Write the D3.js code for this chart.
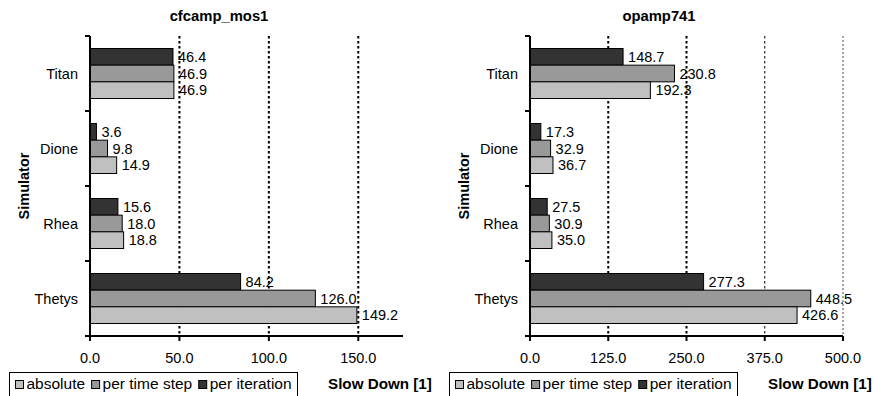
<!DOCTYPE html>
<html>
<head>
<meta charset="utf-8">
<script src="https://cdn.jsdelivr.net/npm/d3@7"></script>
<style>
  body { margin: 0; background: #fff; }
  svg { display: block; font-family: "Liberation Sans", Arial, sans-serif; }
  text { fill: #000; }
</style>
</head>
<body>
<svg id="chart" width="874" height="396"></svg>
<script>
// Simulators, top to bottom
const simulators = ["Titan", "Dione", "Rhea", "Thetys"];
// Series, drawn top to bottom inside each simulator group
const seriesNames = ["per iteration", "per time step", "absolute"];
const seriesColors = ["#333333", "#999999", "#c0c0c0"];
const legendOrder = ["absolute", "per time step", "per iteration"];

// cfcamp_mos1 slow-down values
const cfcampPerIteration = [46.4, 3.6, 15.6, 84.2];
const cfcampPerTimeStep  = [46.9, 9.8, 18.0, 126.0];
const cfcampAbsolute     = [46.9, 14.9, 18.8, 149.2];
const cfcampTicks = [0, 50, 100, 150];

// opamp741 slow-down values
const opampPerIteration = [148.7, 17.3, 27.5, 277.3];
const opampPerTimeStep  = [230.8, 32.9, 30.9, 448.5];
const opampAbsolute     = [192.3, 36.7, 35.0, 426.6];
const opampTicks = [0, 125, 250, 375, 500];

const panels = [
  { title: "cfcamp_mos1", series: [cfcampPerIteration, cfcampPerTimeStep, cfcampAbsolute],
    domain: [0, 175], ticks: cfcampTicks,
    gridStyles: [
      { w: 2, dash: "2.5,2.5", c: "#000" },
      { w: 2, dash: "2.5,2.5", c: "#000" },
      { w: 2, dash: "2.5,2.5", c: "#000" } ] },
  { title: "opamp741", series: [opampPerIteration, opampPerTimeStep, opampAbsolute],
    domain: [0, 500], ticks: opampTicks,
    gridStyles: [
      { w: 2, dash: "2.5,2.5", c: "#000" },
      { w: 2, dash: "2.5,2.5", c: "#000" },
      { w: 1, dash: "2.5,2.5", c: "#000" },
      { w: 1.5, dash: "2,2", c: "#888" } ] }
];

const svg = d3.select("#chart");
const FS = "14.5px";
const plotTop = 36, plotBottom = 336;
const fmt = d3.format(".1f");

panels.forEach((p, pi) => {
  const ox = pi * 440;
  const g = svg.append("g").attr("transform", `translate(${ox},0)`);
  const left = 90, right = 403;

  const x = d3.scaleLinear().domain(p.domain).range([left, right]);
  const y = d3.scaleBand().domain(simulators).range([plotTop, plotBottom])
    .paddingInner(1 / 3).paddingOuter(1 / 6);
  const ySub = d3.scaleBand().domain(seriesNames).range([0, y.bandwidth()]);

  // title
  g.append("text").attr("x", 219).attr("y", 21).attr("text-anchor", "middle")
    .style("font-size", "14.8px").style("font-weight", "bold").text(p.title);

  // dotted vertical grid lines
  p.ticks.filter(t => t > 0).forEach((t, i) => {
    const s = p.gridStyles[i];
    g.append("line").attr("x1", x(t)).attr("x2", x(t))
      .attr("y1", plotTop).attr("y2", plotBottom)
      .attr("stroke", s.c).attr("stroke-width", s.w).attr("stroke-dasharray", s.dash);
  });

  // bars
  seriesNames.forEach((name, si) => {
    const vals = p.series[si];
    g.selectAll(null).data(simulators).enter().append("rect")
      .attr("x", x(0))
      .attr("y", d => y(d) + ySub(name))
      .attr("width", (d, i) => x(vals[i]) - x(0))
      .attr("height", ySub.bandwidth())
      .attr("fill", seriesColors[si])
      .attr("stroke", "#000").attr("stroke-width", 1);
  });

  // value labels
  seriesNames.forEach((name, si) => {
    const vals = p.series[si];
    g.selectAll(null).data(simulators).enter().append("text")
      .attr("x", (d, i) => x(vals[i]) + 5)
      .attr("y", d => y(d) + ySub(name) + ySub.bandwidth() / 2)
      .attr("dy", "0.36em")
      .style("font-size", FS)
      .text((d, i) => fmt(vals[i]));
  });

  // y axis with ticks on category boundaries
  g.append("line").attr("x1", left).attr("x2", left).attr("y1", plotTop).attr("y2", plotBottom + 1)
    .attr("stroke", "#000").attr("stroke-width", 2);
  const boundaries = simulators.map((s, i) => plotTop + i * y.step());
  boundaries.push(plotBottom);
  boundaries.forEach(b => {
    g.append("line").attr("x1", left - 5).attr("x2", left).attr("y1", b).attr("y2", b)
      .attr("stroke", "#000").attr("stroke-width", 2);
  });
  g.selectAll(null).data(simulators).enter().append("text")
    .attr("x", left - 12).attr("y", d => y(d) + y.bandwidth() / 2)
    .attr("dy", "0.36em").attr("text-anchor", "end")
    .style("font-size", FS).text(d => d);

  // x axis
  g.append("line").attr("x1", left - 3).attr("x2", right).attr("y1", plotBottom).attr("y2", plotBottom)
    .attr("stroke", "#000").attr("stroke-width", 2);
  p.ticks.forEach(t => {
    g.append("line").attr("x1", x(t)).attr("x2", x(t)).attr("y1", plotBottom).attr("y2", plotBottom + 5)
      .attr("stroke", "#000").attr("stroke-width", 2);
    g.append("text").attr("x", x(t)).attr("y", 363).attr("text-anchor", "middle")
      .style("font-size", FS).text(fmt(t));
  });

  // axis titles
  g.append("text").attr("transform", "translate(29,186) rotate(-90)")
    .attr("text-anchor", "middle").style("font-size", FS).style("font-weight", "bold")
    .text("Simulator");
  g.append("text").attr("x", 328).attr("y", 389)
    .style("font-size", "15.2px").style("font-weight", "bold").text("Slow Down [1]");

  // legend
  const lg = g.append("g");
  lg.append("rect").attr("x", 9.5).attr("y", 372.5).attr("width", 288).attr("height", 30)
    .attr("fill", "#fff").attr("stroke", "#000").attr("stroke-width", 1);
  let cx = 15;
  legendOrder.forEach(name => {
    const si = seriesNames.indexOf(name);
    lg.append("rect").attr("x", cx + 0.5).attr("y", 380.5).attr("width", 8).attr("height", 8)
      .attr("fill", seriesColors[si]).attr("stroke", "#000").attr("stroke-width", 1);
    const t = lg.append("text").attr("x", cx + 11.5).attr("y", 389)
      .style("font-size", "15.5px").text(name);
    cx += 11.5 + t.node().getComputedTextLength() + 6;
  });
});
</script>
</body>
</html>
